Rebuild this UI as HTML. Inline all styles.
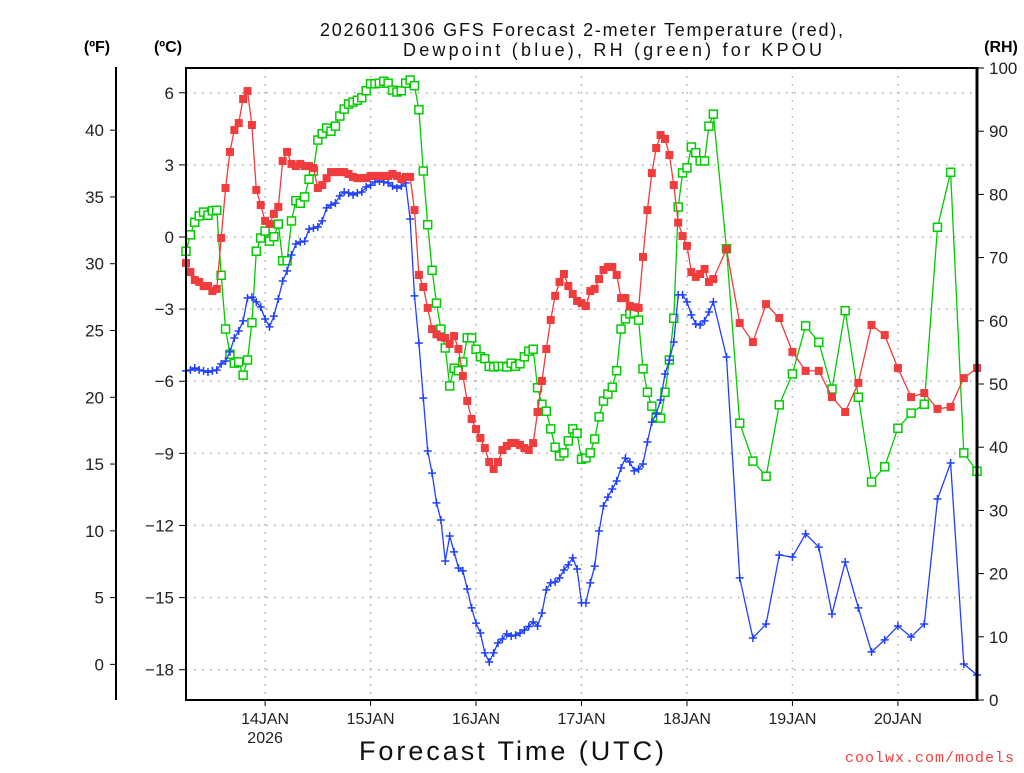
<!DOCTYPE html>
<html><head><meta charset="utf-8"><style>
body{margin:0;background:#fff;width:1024px;height:768px;overflow:hidden;font-family:"Liberation Sans",sans-serif;}
svg text{font-family:"Liberation Sans",sans-serif;}
</style></head><body>
<svg id="chart" width="1024" height="768" viewBox="0 0 1024 768" xmlns="http://www.w3.org/2000/svg">
<g id="grid"></g>
<g id="axes"></g>
<g id="series"></g>
<rect x="186" y="68" width="791" height="632" fill="none" stroke="#000" stroke-width="2"/>
<line x1="977" y1="67" x2="977" y2="701" stroke="#000" stroke-width="3"/>
<line x1="116" y1="67" x2="116" y2="700" stroke="#000" stroke-width="2"/>
<text x="320" y="36" font-size="18" textLength="523" lengthAdjust="spacing" fill="#111">2026011306 GFS Forecast 2-meter Temperature (red),</text>
<text x="403" y="56" font-size="18" textLength="419" lengthAdjust="spacing" fill="#111">Dewpoint (blue), RH (green) for KPOU</text>
<text x="97" y="52" font-size="16" font-weight="bold" text-anchor="middle">(ºF)</text>
<text x="168" y="52" font-size="16" font-weight="bold" text-anchor="middle">(ºC)</text>
<text x="1001" y="52" font-size="16" font-weight="bold" text-anchor="middle">(RH)</text>
<text x="359" y="760" font-size="27" textLength="305" lengthAdjust="spacing" fill="#111">Forecast Time (UTC)</text>
<text x="1015" y="762" font-size="15" text-anchor="end" fill="#f04040" font-family="Liberation Mono" style="font-family:'Liberation Mono',monospace" letter-spacing="1">coolwx.com/models</text>
</svg>
<script>
// Temperature (°C) hourly h0..h120, then 3-hourly h123..h180
const tempHourly=[-1.08,-1.46,-1.79,-1.87,-2.04,-2.04,-2.25,-2.16,-0.04,2.04,3.54,
4.45,4.74,5.74,6.07,4.66,1.96,1.33,0.67,0.54,0.96,
1.25,3.16,3.54,3.04,2.95,3.04,2.95,2.95,2.87,2.04,
2.16,2.45,2.7,2.7,2.7,2.7,2.62,2.5,2.45,2.45,
2.45,2.54,2.54,2.54,2.54,2.54,2.62,2.54,2.41,2.5,2.5,
1.12,-1.58,-2.08,-2.95,-3.83,-4.05,-4.16,-4.2,-4.45,-4.12,-4.66,-5.78,-6.82,-7.57,-7.99,-8.36,-8.78,-9.36,-9.65,-9.36,-8.86,-8.69,-8.57,-8.57,-8.65,-8.78,-8.86,-8.57,-7.28,-5.99,-4.66,-3.45,-2.45,-1.87,-1.54,-2.04,-2.37,-2.66,-2.75,-2.87,-2.25,-2.16,-1.75,-1.37,-1.25,-1.25,-1.58,-2.54,-2.54,-2.87,-2.92,-2.95,-0.83,1.12,2.66,3.7,4.24,4.08,3.41,2.16,0.6,0.04,-0.37,-1.46,-1.66,-1.54,-1.33,-1.87,-1.75];
const temp3h=[-0.5,-3.58,-4.37,-2.79,-3.37,-4.78,-5.57,-5.57,-6.66,-7.28,-6.07,-3.66,-4.08,-5.45,-6.66,-6.49,-7.15,-7.07,-5.87,-5.45];
const dewHourly=[-5.57,-5.53,-5.45,-5.53,-5.57,-5.62,-5.57,-5.53,-5.28,-5.16,-4.78,
-4.2,-3.91,-3.49,-2.54,-2.5,-2.7,-2.91,-3.41,-3.74,-3.29,
-2.58,-1.83,-1.41,-0.75,-0.29,-0.21,-0.17,0.33,0.37,0.42,
0.67,1.21,1.33,1.41,1.71,1.87,1.83,1.75,1.83,1.87,
2.08,2.16,2.29,2.33,2.29,2.25,2.12,2.04,2.12,2.25,
0.75,-2.45,-4.41,-6.7,-8.9,-9.82,-11.06,-11.77,-13.48,-12.44,
-13.1,-13.77,-13.89,-14.64,-15.43,-16.06,-16.47,-17.3,-17.68,-17.3,
-16.89,-16.72,-16.51,-16.6,-16.56,-16.47,-16.35,-16.2,
-16.01,-16.18,-15.64,-14.68,-14.39,-14.35,-14.18,-13.85,-13.64,-13.35,-13.81,-15.22,-15.22,-14.39,-13.69,-12.23,-11.19,-10.82,-10.48,-10.15,-9.61,-9.2,-9.36,-9.73,-9.65,-9.44,-8.53,-7.7,-7.36,-6.78,-5.7,-5.12,-4.37,-2.41,-2.41,-2.7,-3.24,-3.62,-3.66,-3.49,-3.12,-2.7];
const dew3h=[-4.99,-14.18,-16.68,-16.1,-13.23,-13.31,-12.35,-12.9,-15.68,-13.52,-15.43,-17.26,-16.76,-16.18,-16.64,-16.1,-10.9,-9.4,-17.76,-18.22];
const rhHourly=[71.0,73.6,75.6,76.6,77.2,76.7,77.4,77.5,67.2,58.7,
54.7,53.3,53.5,51.4,53.8,59.7,71.0,73.1,74.2,72.6,
73.3,75.3,69.5,69.5,75.8,79.0,78.6,79.6,82.4,83.7,
88.6,89.6,90.5,90.0,90.8,92.4,93.5,94.3,94.6,94.9,
95.3,96.4,97.5,97.5,97.6,97.9,97.6,96.5,96.2,96.4,
97.6,98.1,97.2,93.4,83.7,75.2,68.0,62.8,58.7,55.7,
49.7,52.5,52.1,53.5,57.3,57.3,55.5,54.3,54.0,52.8,
52.7,52.8,52.8,52.7,53.3,52.8,53.2,54.3,55.2,55.5,
49.4,46.8,45.7,42.9,40.0,38.6,39.1,41.0,42.9,42.2,
38.1,38.3,39.1,41.3,44.8,47.3,48.4,49.5,52.1,58.7,
60.3,61.1,61.2,60.1,52.4,48.7,46.5,44.8,44.6,48.7,
53.8,60.4,78.0,83.4,84.2,87.5,86.6,85.3,85.3,90.8,
92.7];
const rh3h=[71.4,43.8,37.8,35.4,46.7,51.6,59.2,56.6,49.2,61.6,47.9,34.5,36.9,43.0,45.4,46.8,74.8,83.5,39.1,36.2];
const dayLabels=["14JAN","15JAN","16JAN","17JAN","18JAN","19JAN","20JAN"];
const dayHours=[18,42,66,90,114,138,162];
const celsiusTicks=[6,3,0,-3,-6,-9,-12,-15,-18];
const fahrenheitTicks=[40,35,30,25,20,15,10,5,0];
const rhTicks=[100,90,80,70,60,50,40,30,20,10,0];

const X0=186,X1=977,Y0=68,Y1=700;
const xS=h=>X0+(X1-X0)*h/180;
const yC=c=>237-c*24.04;
const yF=f=>yC((f-32)*5/9);
const yR=r=>Y1-(Y1-Y0)*r/100;
const NS="http://www.w3.org/2000/svg";
function mk(tag,attrs,parent){const e=document.createElementNS(NS,tag);for(const k in attrs)e.setAttribute(k,attrs[k]);parent.appendChild(e);return e;}
const grid=document.getElementById('grid'),axes=document.getElementById('axes'),series=document.getElementById('series');

function build(hourly,three){const pts=[];hourly.forEach((v,i)=>pts.push([i,v]));three.forEach((v,i)=>pts.push([123+3*i,v]));return pts;}

celsiusTicks.forEach(c=>{
 const y=yC(c);
 const g=mk('line',{x1:X0,y1:y,x2:X1,y2:y,stroke:'#aaa','stroke-width':1.5,'stroke-dasharray':'1.5 6.5'},grid);
 
 const t=mk('line',{x1:X0-7,y1:y,x2:X0,y2:y,stroke:'#000','stroke-width':1},axes);
 
 const l=mk('text',{x:174,y:y+6,'font-size':17,'text-anchor':'end',fill:'#222'},axes);
 l.textContent=c<0?'\u2212'+(-c):String(c);
 
});
fahrenheitTicks.forEach(f=>{
 const y=yF(f);
 const t=mk('line',{x1:110,y1:y,x2:116,y2:y,stroke:'#000','stroke-width':1},axes);
 
 const l=mk('text',{x:104,y:y+6,'font-size':17,'text-anchor':'end',fill:'#222'},axes);
 l.textContent=String(f);
 
});
rhTicks.forEach(r=>{
 const y=yR(r);
 const t=mk('line',{x1:X1,y1:y,x2:X1+7,y2:y,stroke:'#000','stroke-width':1},axes);
 
 const l=mk('text',{x:989,y:y+6,'font-size':17,'text-anchor':'start',fill:'#222'},axes);
 l.textContent=String(r);
 
});
dayHours.forEach((h,i)=>{
 const x=xS(h);
 const g=mk('line',{x1:x,y1:Y0,x2:x,y2:Y1,stroke:'#aaa','stroke-width':1.5,'stroke-dasharray':'1.5 6.5'},grid);
 
 const t=mk('line',{x1:x,y1:Y1,x2:x,y2:Y1+6,stroke:'#000','stroke-width':1},axes);
 
 const l=mk('text',{x:x,y:724,'font-size':16,'text-anchor':'middle',fill:'#222'},axes);
 l.textContent=dayLabels[i];
 
});
const yr=mk('text',{x:xS(dayHours[0]),y:743,'font-size':16,'text-anchor':'middle',fill:'#222'},axes);
yr.textContent='2026';



function drawSeries(pts,yf,color,kind,name){
 const g=mk('g',{},series);
 
 const d=pts.map((p,i)=>(i?'L':'M')+xS(p[0]).toFixed(1)+' '+yf(p[1]).toFixed(1)).join(' ');
 const ln=mk('path',{d:d,fill:'none',stroke:color,'stroke-width':1.3},g);
 
 pts.forEach(p=>{
  const x=xS(p[0]),y=yf(p[1]);let m;
  if(kind==='filled'){m=mk('rect',{x:x-4,y:y-4,width:8,height:8,fill:color},g);}
  else if(kind==='hollow'){m=mk('rect',{x:x-4,y:y-4,width:8,height:8,fill:'#fff',stroke:color,'stroke-width':1.5},g);}
  else{m=mk('path',{d:`M${x-4} ${y}H${x+4}M${x} ${y-4}V${y+4}`,stroke:color,'stroke-width':1.5,fill:'none'},g);}
  
  
 });
}
drawSeries(build(rhHourly,rh3h),yR,'#00cc00','hollow','rh');
drawSeries(build(dewHourly,dew3h),yC,'#2040ff','cross','dewpoint');
drawSeries(build(tempHourly,temp3h),yC,'#f03c3c','filled','temperature');
</script>
</body></html>
